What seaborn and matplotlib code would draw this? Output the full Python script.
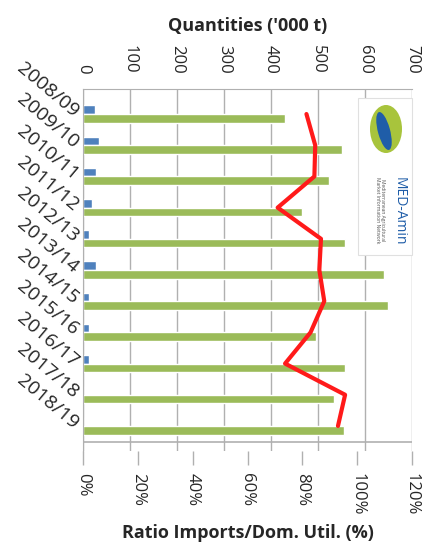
import numpy as np
import pandas as pd
import matplotlib
matplotlib.use("Agg")
import matplotlib.pyplot as plt
import seaborn as sns
from matplotlib.patches import Ellipse, Rectangle

# --- data ---
years = ['2008/09', '2009/10', '2010/11', '2011/12', '2012/13', '2013/14',
         '2014/15', '2015/16', '2016/17', '2017/18', '2018/19']
imports = [25, 35, 27, 20, 13, 27, 13, 13, 13, 1, 1]
dom_util = [430, 552, 524, 465, 557, 641, 648, 496, 557, 534, 555]
ratio = [81.5, 84.7, 84.4, 71, 86.8, 86.2, 88, 83, 73.7, 95.6, 93]

qty_ticks = [0, 100, 200, 300, 400, 500, 600, 700]
ratio_ticks = [0, 20, 40, 60, 80, 100, 120]

sns.set_style("white")
plt.rcParams['font.family'] = ['Open Sans', 'DejaVu Sans']

df = pd.DataFrame({
    'year': years * 2,
    'value': imports + dom_util,
    'series': ['Imports'] * len(years) + ['Dom. Util.'] * len(years),
})

fig = plt.figure(figsize=(4.30, 5.55), dpi=100)
ax = fig.add_axes([83 / 430, 1 - 451 / 555, (412 - 83) / 430, (451 - 89) / 555])

sns.barplot(data=df, x='value', y='year', hue='series', orient='h',
            palette=['#4F81BD', '#9BBB59'], width=0.55, saturation=1,
            legend=False, ax=ax)

# --- ratio line on the second axis ---
ax2 = ax.twiny()
sns.lineplot(x=ratio, y=np.arange(len(years)), orient='y', sort=False,
             color='#FF1A1A', lw=3, ax=ax2)
ax2.set_xlim(0, 120)
ax2.set_xticks(ratio_ticks)
ax2.set_xticklabels([f"{t}%" for t in ratio_ticks])
ax2.xaxis.tick_bottom()
ax2.xaxis.set_label_position('bottom')
ax2.tick_params(axis='x', length=10, width=1, color='#B0B0B0', pad=6,
                labelsize=12, labelrotation=270)
ax2.set_xlabel('Ratio Imports/Dom. Util. (%)', fontsize=13, fontweight='bold',
               labelpad=6)
for side in ax2.spines:
    ax2.spines[side].set_visible(False)

# --- quantities axis on top ---
ax.set_axisbelow(True)
ax.set_xlim(0, 700)
ax.set_xticks(qty_ticks)
ax.xaxis.tick_top()
ax.xaxis.set_label_position('top')
ax.grid(axis='x', color='#B0B0B0', lw=1)
ax.tick_params(axis='x', length=0, pad=11, labelsize=12, labelrotation=270)
ax.tick_params(axis='y', length=0, pad=5)
ax.set_xlabel("Quantities ('000 t)", fontsize=13, fontweight='bold', labelpad=10)
ax.set_ylabel('')
for lab in ax.get_yticklabels():
    lab.set_rotation(-40)
    lab.set_ha('right')
    lab.set_va('center')
    lab.set_rotation_mode('anchor')
    lab.set_fontsize(14)
for side in ['bottom', 'right']:
    ax.spines[side].set_visible(False)
for side in ['left', 'top']:
    ax.spines[side].set_color('#B0B0B0')
ax2.axhline(len(years) - 0.5, color='#B0B0B0', lw=1.2)

# --- logo (approximation) ---
fig.patches.append(Rectangle((358 / 430, 1 - 255 / 555), 54 / 430, 157 / 555,
                             transform=fig.transFigure, fc='white',
                             ec='#E0E0E0', lw=0.8, zorder=5))
fig.patches.append(Ellipse((386 / 430, 1 - 129 / 555), 32 / 430, 48 / 555,
                           transform=fig.transFigure, fc='#A8C43C',
                           ec='none', zorder=6))
fig.patches.append(Ellipse((384 / 430, 1 - 131 / 555), 12 / 430, 40 / 555,
                           angle=20, transform=fig.transFigure,
                           fc='#1F5DA8', ec='none', zorder=7))
fig.text(399 / 430, 1 - 211 / 555, 'MED-Amin', rotation=270, color='#1F5DA8',
         fontsize=10, ha='center', va='center', zorder=8)
fig.text(380 / 430, 1 - 210 / 555,
         'Mediterranean Agricultural\nMarket Information Network',
         rotation=270, color='#555555', fontsize=3.6, ha='center',
         va='center', zorder=8)

fig.savefig('out.png', dpi=100)
